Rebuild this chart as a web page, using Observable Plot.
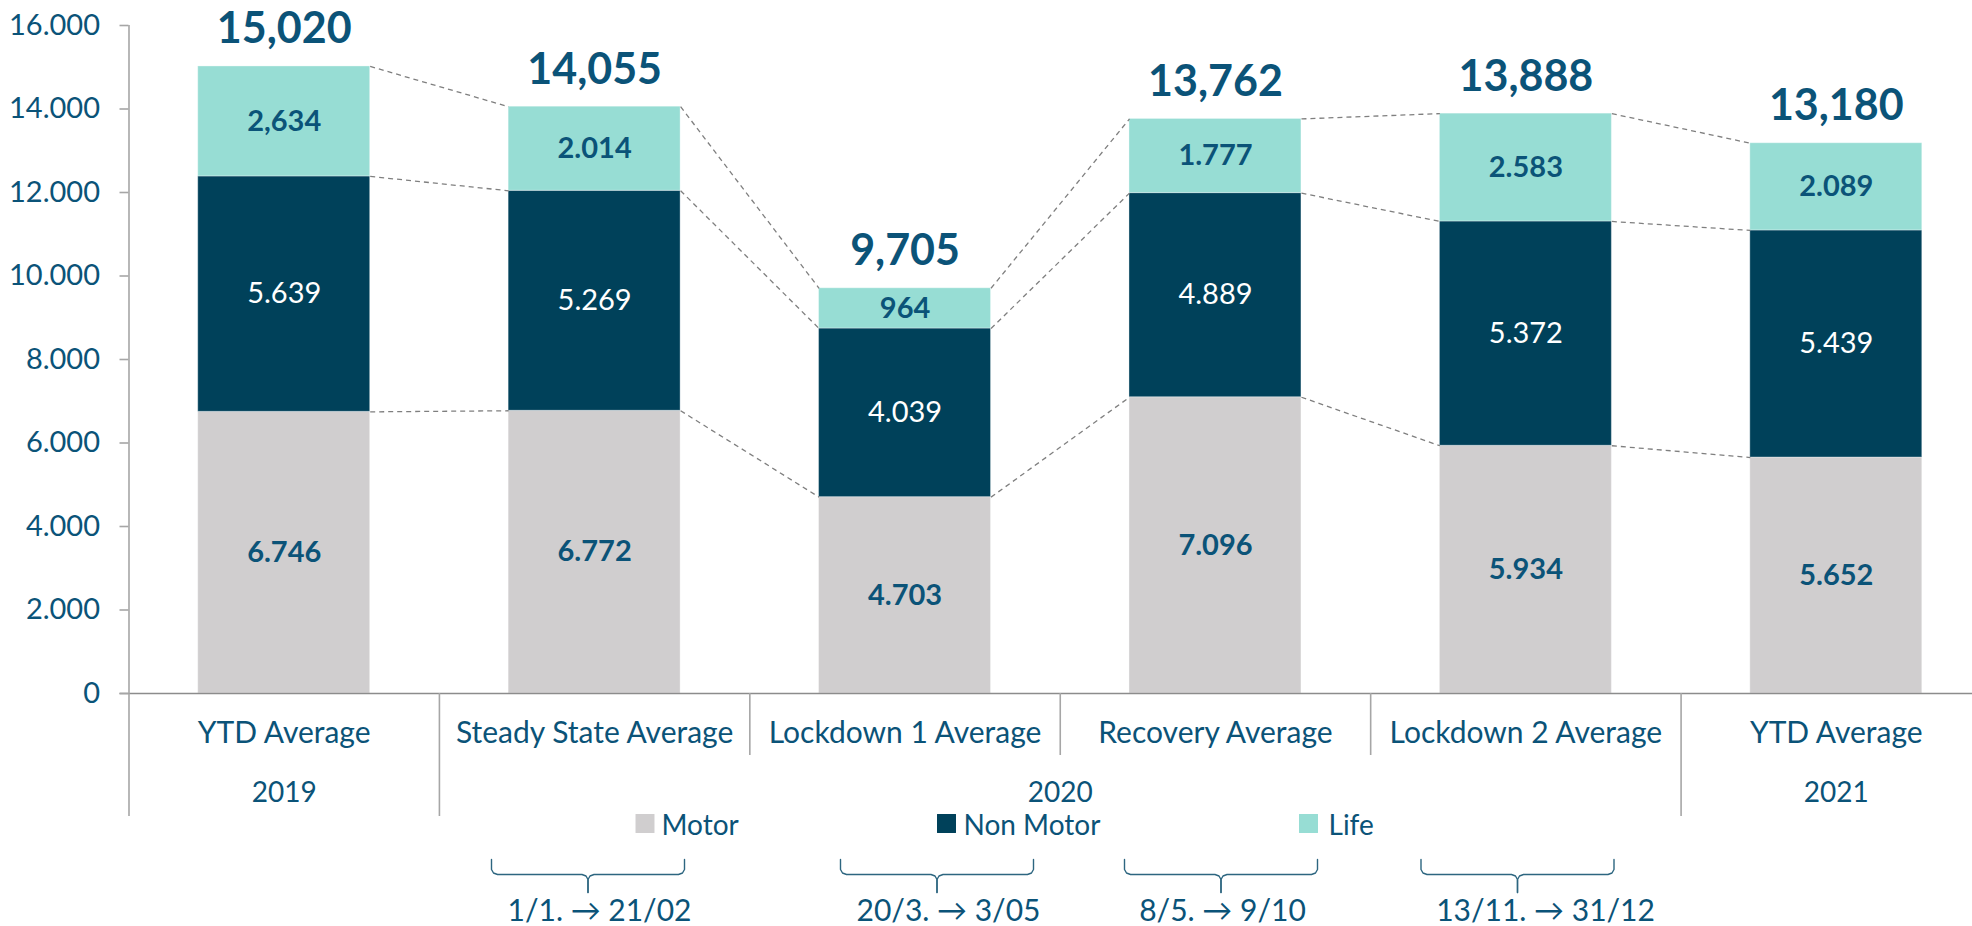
<!DOCTYPE html>
<html>
<head>
<meta charset="utf-8">
<script src="https://cdn.jsdelivr.net/npm/d3@7"></script>
<script src="https://cdn.jsdelivr.net/npm/@observablehq/plot@0.6"></script>
<style>
  html, body { margin: 0; padding: 0; overflow: hidden; background: #fff; }
  #chart svg { display: block; max-width: none !important; }
</style>
</head>
<body>
<div id="chart"></div>
<script>
// ---------- data ----------
const periods = ["YTD Average", "Steady State Average", "Lockdown 1 Average", "Recovery Average", "Lockdown 2 Average", "YTD Average"];
const years = ["2019", "2020", "2021"];
const yearSpans = [[0, 1], [1, 5], [5, 6]];
const seriesNames = ["Motor", "Non Motor", "Life"];
const seriesColors = ["#d0cecf", "#00415a", "#97ddd4"];
const motor = [6746, 6772, 4703, 7096, 5934, 5652];
const nonMotor = [5639, 5269, 4039, 4889, 5372, 5439];
const life = [2634, 2014, 964, 1777, 2583, 2089];
const motorLabels = ["6.746", "6.772", "4.703", "7.096", "5.934", "5.652"];
const nonMotorLabels = ["5.639", "5.269", "4.039", "4.889", "5.372", "5.439"];
const lifeLabels = ["2,634", "2.014", "964", "1.777", "2.583", "2.089"];
const totalLabels = ["15,020", "14,055", "9,705", "13,762", "13,888", "13,180"];
const yTicks = [0, 2000, 4000, 6000, 8000, 10000, 12000, 14000, 16000];
const yTickLabels = ["0", "2.000", "4.000", "6.000", "8.000", "10.000", "12.000", "14.000", "16.000"];
const dateRanges = ["1/1. \u2192 21/02", "20/3. \u2192 3/05", "8/5. \u2192 9/10", "13/11. \u2192 31/12"];

// ---------- layout ----------
const W = 1992, H = 926;
const mL = 128.5, mR = 1, mT = 25, mB = 233;
const yMax = 16000;
const pxPerUnit = (H - mB - mT) / yMax;
const below = px => -px / pxPerUnit;          // data units for a pixel offset below the baseline
const step = (W - mL - mR) / periods.length;
const xAt = px => (px - mL) / step;            // index units for a pixel x (annotations only)
const pad = 0.223;
const textColor = "#0b5378";
const font = "Lato, 'Open Sans', sans-serif";

// ---------- derived tables ----------
const seriesValues = [motor, nonMotor, life];
const seriesLabels = [motorLabels, nonMotorLabels, lifeLabels];
const segments = [];
periods.forEach((p, i) => {
  let base = 0;
  seriesNames.forEach((s, k) => {
    const v = seriesValues[k][i];
    segments.push({i, k, series: s, y1: base, y2: base + v, label: seriesLabels[k][i]});
    base += v;
  });
});
const topOf = (i, k) => segments.find(d => d.i === i && d.k === k).y2;
const links = [];
for (let i = 0; i < periods.length - 1; i++)
  for (let k = 0; k < 3; k++)
    links.push({x1: i + 1 - pad, x2: i + 1 + pad, y1: topOf(i, k), y2: topOf(i + 1, k)});
const totals = periods.map((p, i) => ({i, total: motor[i] + nonMotor[i] + life[i], label: totalLabels[i]}));
const cats = periods.map((p, i) => ({i, label: p}));
const yearRows = years.map((y, j) => ({label: y, x: (yearSpans[j][0] + yearSpans[j][1]) / 2}));
const separators = [1, 2, 3, 4, 5].map(x => ({x, long: yearSpans.some(s => s[0] === x)}));

// legend & braces (annotation positions)
const legendItems = [
  {name: "Motor", sq: xAt(644.5), tx: xAt(661)},
  {name: "Non Motor", sq: xAt(946), tx: xAt(963)},
  {name: "Life", sq: xAt(1308), tx: xAt(1328)}
];
const braceCenters = [587.5, 936.5, 1220.5, 1517].map(xAt);
const braceHalf = 96.5 / step;
const dateCenters = [599, 948, 1222, 1545].map(xAt);
const bracePts = [];
braceCenters.forEach((c, b) => {
  const L = c - braceHalf, R = c + braceHalf, u = 1 / step;
  const half = (side, sgn) => [
    [side, 859], [side, 869], [side + sgn * 2 * u, 872.5], [side + sgn * 6 * u, 874],
    [c - sgn * 6 * u, 874], [c - sgn * 2 * u, 875.5], [c, 879], [c, 892]
  ].map(([x, py]) => ({id: b + (sgn > 0 ? "L" : "R"), x, y: below(py - (H - mB))}));
  bracePts.push(...half(L, 1), ...half(R, -1));
});
const dates = dateRanges.map((t, j) => ({label: t, x: dateCenters[j]}));

// ---------- plot ----------
const chart = Plot.plot({
  width: W, height: H,
  marginLeft: mL, marginRight: mR, marginTop: mT, marginBottom: mB,
  style: {fontFamily: font, background: "white", overflow: "visible"},
  x: {type: "linear", domain: [0, periods.length], axis: null},
  y: {domain: [0, yMax], axis: null},
  color: {domain: seriesNames, range: seriesColors},
  marks: [
    Plot.rect(segments, {x1: d => d.i + pad, x2: d => d.i + 1 - pad, y1: "y1", y2: "y2", fill: "series", stroke: "white", strokeOpacity: 0.35, strokeWidth: 1}),
    Plot.link(links, {x1: "x1", x2: "x2", y1: "y1", y2: "y2", stroke: "#7f7f7f", strokeWidth: 1.3, strokeDasharray: "5,4"}),
    // axes lines
    Plot.ruleY([0], {stroke: "#8c8c8c", strokeWidth: 1.6, insetLeft: -9}),
    Plot.ruleX([0], {y1: below(123), y2: yMax, stroke: "#a6a6a6", strokeWidth: 1.6}),
    Plot.ruleX(separators, {x: "x", y1: 0, y2: d => below(d.long ? 123 : 62), stroke: "#a6a6a6", strokeWidth: 1.6}),
    Plot.axisY({ticks: yTicks, tickFormat: d => yTickLabels[yTicks.indexOf(d)], tickSize: 9, tickPadding: 20,
      fontSize: 29, fill: textColor, stroke: "#a6a6a6", strokeWidth: 1.6, label: null}),
    // segment labels
    Plot.text(segments.filter(d => d.k !== 1), {x: d => d.i + 0.5, y: d => (d.y1 + d.y2) / 2, text: "label",
      fill: textColor, fontSize: 29, fontWeight: "bold", lineAnchor: "middle"}),
    Plot.text(segments.filter(d => d.k === 1), {x: d => d.i + 0.5, y: d => (d.y1 + d.y2) / 2, text: "label",
      fill: "white", fontSize: 29, lineAnchor: "middle"}),
    // totals
    Plot.text(totals, {x: d => d.i + 0.5, y: "total", text: "label", dy: -23, lineAnchor: "bottom",
      fill: textColor, fontSize: 43, fontWeight: "bold"}),
    // category labels
    Plot.text(cats, {x: d => d.i + 0.5, y: 0, dy: 40, text: "label", fill: textColor, fontSize: 30, lineAnchor: "middle"}),
    Plot.text(yearRows, {x: "x", y: 0, dy: 100, text: "label", fill: textColor, fontSize: 28, lineAnchor: "middle"}),
    // legend
    Plot.dot(legendItems, {x: "sq", y: below(130), symbol: "square", r: 10.7, fill: "name"}),
    Plot.text(legendItems, {x: "tx", y: below(133), text: "name", textAnchor: "start", fill: textColor, fontSize: 28, lineAnchor: "middle"}),
    // braces & date ranges
    Plot.line(bracePts, {x: "x", y: "y", z: "id", stroke: "#2d6680", strokeWidth: 1.4}),
    Plot.text(dates, {x: "x", y: below(218), text: "label", fill: textColor, fontSize: 30, lineAnchor: "middle"})
  ]
});
document.getElementById("chart").appendChild(chart);
</script>
</body>
</html>
